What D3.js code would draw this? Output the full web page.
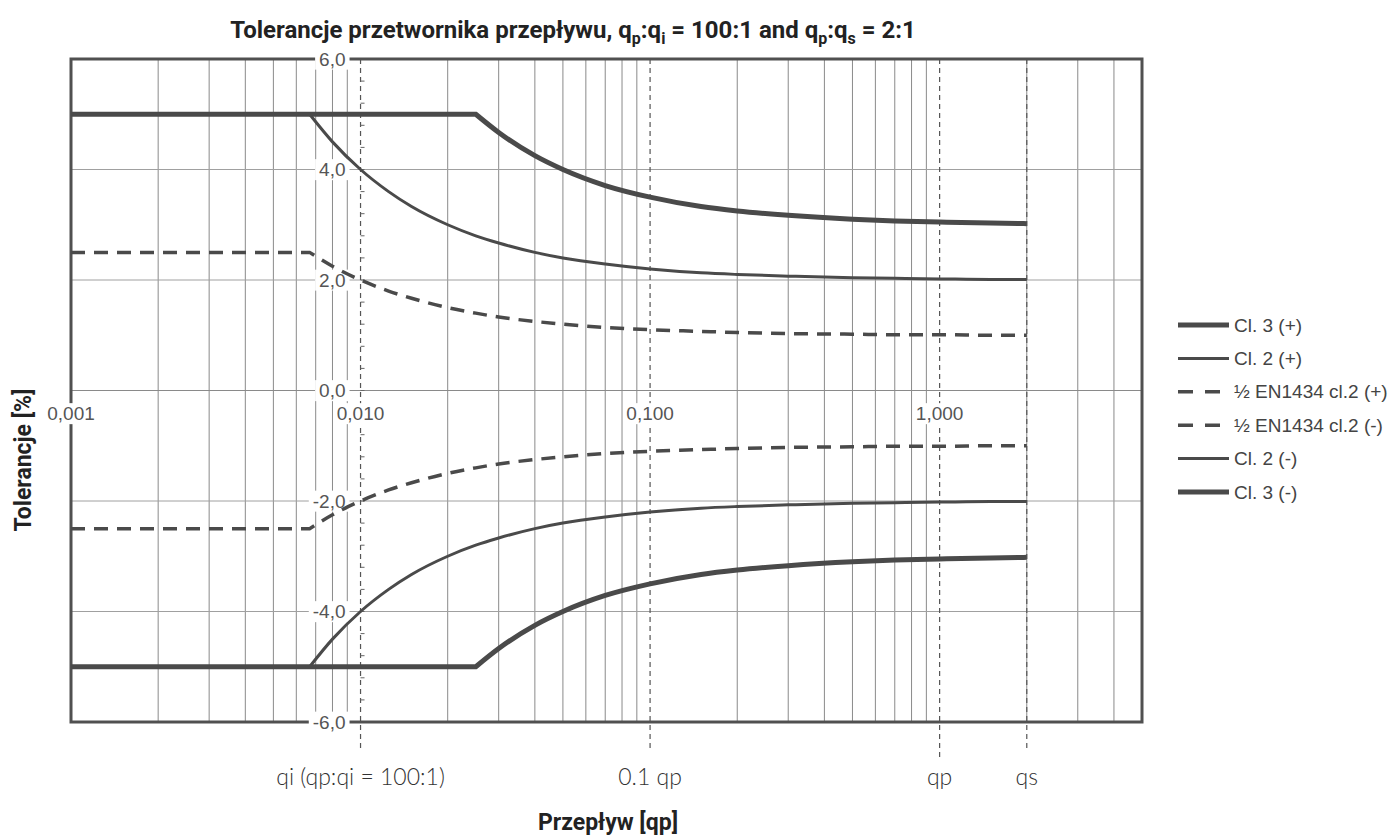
<!DOCTYPE html>
<html lang="pl">
<head>
<meta charset="UTF-8">
<title>Tolerancje przetwornika przepływu</title>
<style>
  * { margin: 0; padding: 0; }
  body { background: #fff; }
</style>
</head>
<body>
<div id="chart"></div>
<script src="https://cdn.jsdelivr.net/npm/d3@7"></script>
<script>
// flow points (fraction of qp) and tolerance values
const flow = [0.001, 0.00667, 0.008, 0.01, 0.0125, 0.015, 0.02, 0.025, 0.03, 0.04, 0.05, 0.07,
  0.1, 0.15, 0.2, 0.3, 0.5, 0.7, 1, 1.5, 2]
const cl3 = [5, 5, 5, 5, 5, 5, 5, 5, 4.67, 4.25, 4.0, 3.71, 3.5, 3.33, 3.25, 3.17, 3.1, 3.07, 3.05, 3.03, 3.02]
const cl2 = [5, 5, 4.5, 4.0, 3.6, 3.33, 3.0, 2.8, 2.67, 2.5, 2.4, 2.29, 2.2, 2.13, 2.1, 2.07, 2.04, 2.03, 2.02, 2.01, 2.01]
const halfEN = [2.5, 2.5, 2.25, 2.0, 1.8, 1.67, 1.5, 1.4, 1.33, 1.25, 1.2, 1.14, 1.1, 1.07, 1.05, 1.03, 1.02, 1.01, 1.01, 1.0, 1.0]

const seriesNames = ['Cl. 3 (+)', 'Cl. 2 (+)', '½ EN1434 cl.2 (+)', '½ EN1434 cl.2 (-)', 'Cl. 2 (-)', 'Cl. 3 (-)']
const yTicks = [-6, -4, -2, 0, 2, 4, 6]
const xTicks = [0.001, 0.01, 0.1, 1]
const markers = [
  { q: 0.01, label: 'qi (qp:qi = 100:1)', end: 748 },
  { q: 0.1, label: '0.1 qp', end: 748 },
  { q: 1, label: 'qp', end: 758 },
  { q: 2, label: 'qs', end: 748 }
]

const W = 1395, H = 836
const pLeft = 71, pRight = 1142, pTop = 59, pBottom = 722
const ink = '#4a4a4a'

const svg = d3.select('#chart').append('svg')
  .attr('width', W)
  .attr('height', H)
  .style('font-family', '"Liberation Sans", Arial, sans-serif')

const x = d3.scaleLog().domain([0.001, 5]).range([pLeft, pRight])
const y = d3.scaleLinear().domain([-6, 6]).range([pBottom, pTop])

// grid
const minor = []
for (let d = 0.001; d < 5; d *= 10) {
  for (let k = 2; k <= 9; k++) {
    const v = +(k * d).toPrecision(3)
    if (v < 5) minor.push(v)
  }
}
svg.append('g').selectAll('line').data(minor).enter().append('line')
  .attr('x1', d => x(d)).attr('x2', d => x(d))
  .attr('y1', pTop).attr('y2', pBottom)
  .attr('stroke', '#8a8a8a').attr('stroke-width', 1)

svg.append('g').selectAll('line').data(yTicks.filter(d => d !== 0 && Math.abs(d) < 6)).enter().append('line')
  .attr('x1', pLeft).attr('x2', pRight)
  .attr('y1', d => y(d)).attr('y2', d => y(d))
  .attr('stroke', '#a0a0a0').attr('stroke-width', 1)

// x axis at 0
svg.append('line')
  .attr('x1', pLeft).attr('x2', pRight)
  .attr('y1', y(0)).attr('y2', y(0))
  .attr('stroke', '#8a8a8a').attr('stroke-width', 1.2)

// dashed marker lines (qi, 0.1qp, qp, qs)
svg.append('g').selectAll('line').data(markers).enter().append('line')
  .attr('x1', d => x(d.q)).attr('x2', d => x(d.q))
  .attr('y1', pTop).attr('y2', d => d.end)
  .attr('stroke', '#555').attr('stroke-width', 1.2)
  .attr('stroke-dasharray', '5,4')

// y axis minor ticks on the qi line
const yMinor = d3.range(-6, 6.01, 0.4).map(v => +v.toFixed(1))
svg.append('g').selectAll('line').data(yMinor).enter().append('line')
  .attr('x1', x(0.01)).attr('x2', x(0.01) + 4)
  .attr('y1', d => y(d)).attr('y2', d => y(d))
  .attr('stroke', '#666').attr('stroke-width', 1)

// frame
svg.append('rect')
  .attr('x', pLeft).attr('y', pTop)
  .attr('width', pRight - pLeft).attr('height', pBottom - pTop)
  .attr('fill', 'none').attr('stroke', '#505050').attr('stroke-width', 3)

// tick labels with white background
const fmt = v => v.toFixed(1).replace('.', ',')
const yLab = svg.append('g').selectAll('g').data(yTicks).enter().append('g')
  .attr('transform', d => `translate(${x(0.01) - 15},${y(d)})`)
yLab.append('text')
  .attr('text-anchor', 'end').attr('dy', '0.35em')
  .attr('font-size', 19).attr('fill', '#555')
  .text(d => fmt(d))
yLab.each(function () {
  const g = d3.select(this)
  const b = g.select('text').node().getBBox()
  g.insert('rect', 'text')
    .attr('x', b.x - 4).attr('y', b.y).attr('width', b.width + 8).attr('height', b.height)
    .attr('fill', '#fff')
})

const xLab = svg.append('g').selectAll('g').data(xTicks).enter().append('g')
  .attr('transform', d => `translate(${x(d)},${y(0) + 23})`)
xLab.append('text')
  .attr('text-anchor', 'middle').attr('dy', '0.35em')
  .attr('font-size', 19).attr('fill', '#555')
  .text(d => d.toFixed(3).replace('.', ','))
xLab.each(function () {
  const g = d3.select(this)
  const b = g.select('text').node().getBBox()
  g.insert('rect', 'text')
    .attr('x', b.x - 2).attr('y', b.y).attr('width', b.width + 4).attr('height', b.height)
    .attr('fill', '#fff')
})

// curves: straight cap segment, then a smooth monotone part from the corner on
const styles = [
  { w: 5, dash: null },
  { w: 3, dash: null },
  { w: 3.5, dash: '14,9' },
  { w: 3.5, dash: '14,9' },
  { w: 3, dash: null },
  { w: 5, dash: null }
]
const seriesVals = [cl3, cl2, halfEN, halfEN.map(v => -v), cl2.map(v => -v), cl3.map(v => -v)]
const flat = d3.line().x(d => x(d[0])).y(d => y(d[1]))
const smooth = d3.line().x(d => x(d[0])).y(d => y(d[1])).curve(d3.curveMonotoneX)
function curvePath(vals) {
  const pts = vals.map((v, i) => [flow[i], v])
  let k = 0
  while (k + 1 < pts.length && pts[k + 1][1] === pts[0][1]) k++
  return flat(pts.slice(0, k + 1)) + smooth(pts.slice(k)).replace(/^M/, 'L')
}

svg.append('g').selectAll('path').data(seriesVals).enter().append('path')
  .attr('d', d => curvePath(d))
  .attr('fill', 'none')
  .attr('stroke', ink)
  .attr('stroke-width', (d, i) => styles[i].w)
  .attr('stroke-dasharray', (d, i) => styles[i].dash)

// legend
const leg = svg.append('g').selectAll('g').data(seriesNames).enter().append('g')
  .attr('transform', (d, i) => `translate(1178,${325 + i * 33.4})`)
leg.append('line')
  .attr('x1', 0).attr('x2', 51)
  .attr('stroke', ink)
  .attr('stroke-width', (d, i) => styles[i].w)
  .attr('stroke-dasharray', (d, i) => styles[i].dash ? '15,12' : null)
leg.append('text')
  .attr('x', 56).attr('dy', '0.35em')
  .attr('font-size', 19).attr('fill', '#444')
  .text(d => d)

// marker labels under the plot
svg.append('g').selectAll('text').data(markers).enter().append('text')
  .attr('x', d => x(d.q)).attr('y', 785)
  .attr('text-anchor', 'middle')
  .attr('font-family', 'Lato, sans-serif').attr('font-weight', 300)
  .attr('font-size', 23).attr('fill', '#333')
  .text(d => d.label)

// titles
const title = svg.append('text')
  .attr('x', 573).attr('y', 38)
  .attr('text-anchor', 'middle')
  .attr('font-family', 'Roboto, sans-serif').attr('font-weight', 700)
  .attr('font-size', 24).attr('fill', '#222')
const parts = [['Tolerancje przetwornika przepływu, q'], ['p', 1], [':q'], ['i', 1], [' = 100:1 and q'], ['p', 1], [':q'], ['s', 1], [' = 2:1']]
parts.forEach((p, i) => {
  const t = title.append('tspan').text(p[0])
  if (p[1]) t.attr('font-size', 16).attr('dy', 6)
  else if (i > 0) t.attr('dy', -6)
})

svg.append('text')
  .attr('x', 608).attr('y', 830)
  .attr('text-anchor', 'middle')
  .attr('font-family', 'Roboto, sans-serif').attr('font-weight', 700)
  .attr('font-size', 23).attr('fill', '#222')
  .text('Przepływ [qp]')

svg.append('text')
  .attr('transform', 'translate(31,460) rotate(-90)')
  .attr('text-anchor', 'middle')
  .attr('font-family', 'Roboto, sans-serif').attr('font-weight', 700)
  .attr('font-size', 23).attr('fill', '#222')
  .text('Tolerancje [%]')
</script>
</body>
</html>
